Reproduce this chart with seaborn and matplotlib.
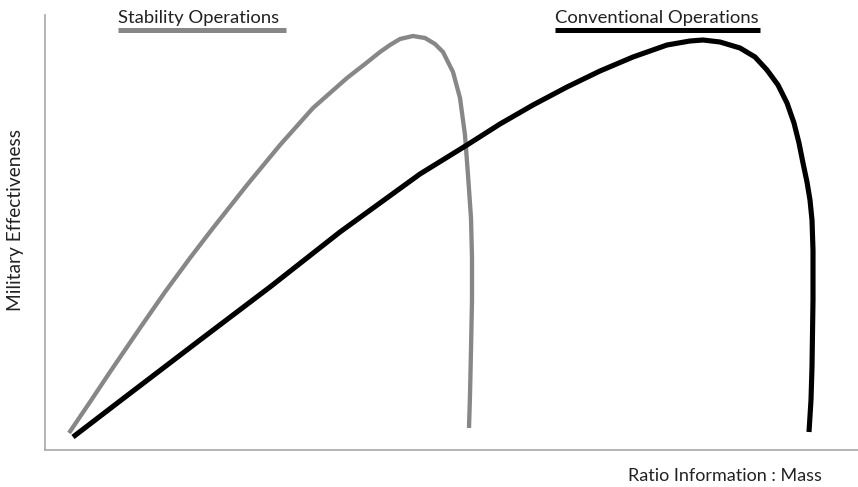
import matplotlib
matplotlib.use('Agg')
import matplotlib.pyplot as plt
from matplotlib.lines import Line2D
import seaborn as sns
import pandas as pd

# curve points (arbitrary units, the chart has no ticks)
stab_x = [24, 45, 65, 95, 120, 145, 168, 202, 235, 268, 302, 320, 335, 345, 355, 368, 380, 390,
          398, 408, 415, 420, 423, 426, 427, 427, 426, 425, 424]
stab_y = [17, 48, 78, 122, 158, 192, 222, 265, 305, 342, 372, 386, 398, 405, 411, 414, 412, 406,
          398, 378, 352, 315, 275, 232, 192, 150, 100, 55, 22]

conv_x = [28, 75, 155, 225, 295, 335, 375, 422, 455, 488, 522, 555, 588, 622, 645, 658, 675, 695,
          710, 722, 733, 742, 749, 754, 758, 762, 765, 767, 768, 768, 767, 766, 764]
conv_y = [13, 49, 110, 163, 218, 247, 276, 305, 326, 345, 363, 379, 393, 405, 409, 410, 408, 402,
          393, 380, 365, 347, 327, 307, 287, 268, 250, 230, 200, 150, 83, 50, 18]

labels = ['Stability Operations', 'Conventional Operations']
colors = ['#87878a', '#000000']

sns.set_style('white')
plt.rcParams['font.family'] = ['Lato', 'DejaVu Sans']

W, H = 858, 487
fig = plt.figure(figsize=(W / 100, H / 100), dpi=100)
ax = fig.add_axes([45 / W, (H - 450) / H, (W - 45) / W, (450 - 15) / H])

df = pd.concat([
    pd.DataFrame({'x': stab_x, 'y': stab_y, 'series': labels[0]}),
    pd.DataFrame({'x': conv_x, 'y': conv_y, 'series': labels[1]}),
])

for lab, col, lw in zip(labels, colors, [3.1, 3.7]):
    sub = df[df['series'] == lab]
    sns.lineplot(data=sub, x='x', y='y', sort=False, estimator=None, color=col,
                 linewidth=lw, ax=ax, solid_capstyle='butt', solid_joinstyle='round')

ax.set_xlim(0, 813)
ax.set_ylim(0, 435)
ax.set_xticks([])
ax.set_yticks([])
ax.set_xlabel('')
ax.set_ylabel('')
for s in ['top', 'right']:
    ax.spines[s].set_visible(False)
for s in ['left', 'bottom']:
    ax.spines[s].set_color('#a8a8a8')
    ax.spines[s].set_linewidth(1.2)

# axis titles
fig.text(16 / W, 1 - 220 / H, 'Military Effectiveness', rotation=90, ha='center', va='center',
         fontsize=13.8, color='#222222')
fig.text(822 / W, 1 - 476 / H, 'Ratio Information : Mass', ha='right', va='center',
         fontsize=13, color='#222222')

# header labels with bars underneath
fig.text(118 / W, 1 - 23 / H, labels[0], ha='left', va='baseline', fontsize=13.3, color='#222222')
fig.add_artist(Line2D([118 / W, 286 / W], [1 - 29.5 / H] * 2, color=colors[0], linewidth=3.6,
                      transform=fig.transFigure, solid_capstyle='butt'))
fig.text(555 / W, 1 - 23 / H, labels[1], ha='left', va='baseline', fontsize=13.3, color='#222222')
fig.add_artist(Line2D([555 / W, 760 / W], [1 - 29.5 / H] * 2, color=colors[1], linewidth=3.6,
                      transform=fig.transFigure, solid_capstyle='butt'))

plt.savefig('out.png', dpi=100)
